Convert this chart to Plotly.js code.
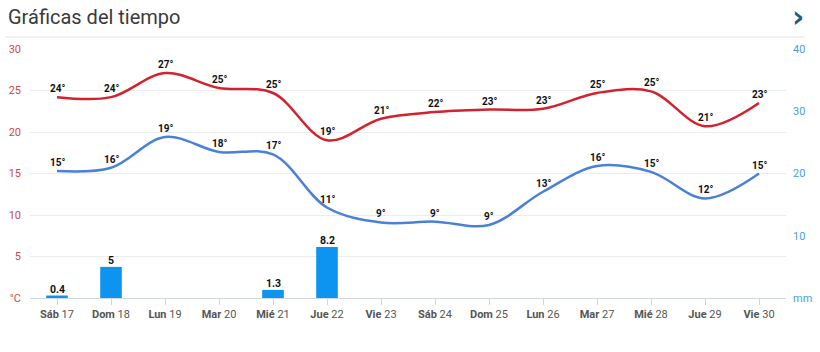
<!DOCTYPE html>
<html>
<head>
<meta charset="utf-8">
<script src="https://cdn.plot.ly/plotly-3.0.1.min.js"></script>
<style>html,body{margin:0;padding:0;background:#fff;}#chart{width:820px;height:352px;}</style>
</head>
<body>
<div id="chart"></div>
<script>
const days = ["Sáb", "Dom", "Lun", "Mar", "Mié", "Jue", "Vie", "Sáb", "Dom", "Lun", "Mar", "Mié", "Jue", "Vie"];
const dates = [17, 18, 19, 20, 21, 22, 23, 24, 25, 26, 27, 28, 29, 30];
const maxTemp = [24.2, 24.2, 27.1, 25.3, 24.7, 19.0, 21.6, 22.4, 22.7, 22.8, 24.7, 24.9, 20.7, 23.5];
const maxLabels = [24, 24, 27, 25, 25, 19, 21, 22, 23, 23, 25, 25, 21, 23];
const minTemp = [15.3, 15.7, 19.4, 17.6, 17.3, 10.9, 9.1, 9.2, 8.8, 12.8, 15.9, 15.2, 12.0, 15.0];
const minLabels = [15, 16, 19, 18, 17, 11, 9, 9, 9, 13, 16, 15, 12, 15];
const precip = [0.4, 5, 0, 0, 1.3, 8.2, 0, 0, 0, 0, 0, 0, 0, 0];
const leftTicks = [0, 5, 10, 15, 20, 25, 30];
const leftTickText = ["°C", "5", "10", "15", "20", "25", "30"];
const rightTicks = [0, 10, 20, 30, 40];
const rightTickText = ["mm", "10", "20", "30", "40"];

const cats = dates.map((d, i) => i);
const tickText = days.map((d, i) => "<b>" + d + "</b> " + dates[i]);

const RED = "#d2222f", BLUE = "#4a80d8", BAR = "#0d93f0";

const traces = [
  {type: "bar", x: cats, y: precip, yaxis: "y2", width: 0.4, marker: {color: BAR}, hoverinfo: "skip"},
  {type: "scatter", mode: "lines", x: cats, y: maxTemp, line: {color: RED, width: 2.5, shape: "spline", smoothing: 1}, hoverinfo: "skip"},
  {type: "scatter", mode: "lines", x: cats, y: minTemp, line: {color: BLUE, width: 2.5, shape: "spline", smoothing: 1}, hoverinfo: "skip"}
];

const annFont = {family: "Roboto, Arial, sans-serif", size: 10, color: "#111"};
const annotations = [];
cats.forEach((c, i) => {
  annotations.push({x: c, y: maxTemp[i], xref: "x", yref: "y", text: "<b>" + maxLabels[i] + "°</b>", showarrow: false, yanchor: "bottom", yshift: 1, font: annFont});
  annotations.push({x: c, y: minTemp[i], xref: "x", yref: "y", text: "<b>" + minLabels[i] + "°</b>", showarrow: false, yanchor: "bottom", yshift: 1, font: annFont});
  if (precip[i] > 0) {
    annotations.push({x: c, y: precip[i], xref: "x", yref: "y2", text: "<b>" + precip[i] + "</b>", showarrow: false, yanchor: "bottom", yshift: -2, font: {family: "Roboto, Arial, sans-serif", size: 10.5, color: "#111"}});
  }
});
annotations.push({xref: "paper", yref: "paper", x: 1.0165, y: 1.13, text: "<b>›</b>", showarrow: false, xanchor: "center", yanchor: "middle", font: {family: "DejaVu Sans, sans-serif", size: 30, color: "#1f5a8a"}});

const layout = {
  width: 820, height: 352,
  margin: {l: 30, r: 34, t: 49, b: 54},
  paper_bgcolor: "#fff", plot_bgcolor: "#fff",
  showlegend: false,
  title: {text: "Gráficas del tiempo", x: 8/820, xanchor: "left", xref: "container", y: 1 - 17/352, yanchor: "middle", yref: "container", font: {family: "Roboto, Arial, sans-serif", size: 20, color: "#3a3a3a"}},
  xaxis: {type: "linear", range: [-0.5, 13.5], tickvals: cats, ticktext: tickText, showgrid: false, zeroline: false, showline: true, linecolor: "#cfd6df", linewidth: 1, ticks: "outside", ticklen: 6, tickcolor: "#cfd6df", tickfont: {family: "Roboto, Arial, sans-serif", size: 11, color: "#555"}},
  yaxis: {range: [0, 30], tickvals: leftTicks, ticktext: leftTickText, showgrid: true, gridcolor: "#ececec", zeroline: false, showline: false, ticks: "", tickfont: {family: "Roboto, Arial, sans-serif", size: 11, color: "#cc4a4a"}, ticklabelstandoff: 8},
  yaxis2: {range: [0, 40], overlaying: "y", side: "right", tickvals: rightTicks, ticktext: rightTickText, showgrid: false, zeroline: false, showline: false, ticks: "", tickfont: {family: "Roboto, Arial, sans-serif", size: 11, color: "#4aa0dc"}, ticklabelstandoff: 6},
  shapes: [{type: "line", xref: "paper", yref: "paper", x0: -0.033, x1: 1.025, y0: 1.048, y1: 1.048, line: {color: "#e2e2e2", width: 1}}],
  annotations: annotations
};

Plotly.newPlot("chart", traces, layout, {displayModeBar: false, staticPlot: true});
</script>
</body>
</html>
